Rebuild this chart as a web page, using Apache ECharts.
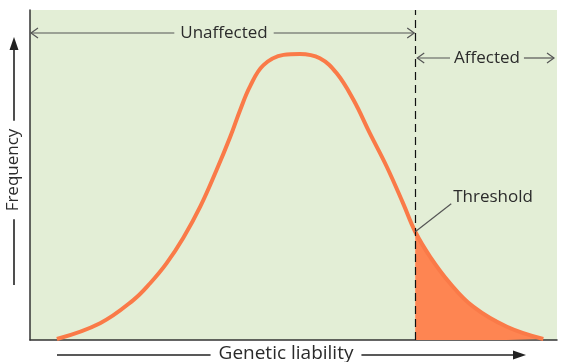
<!DOCTYPE html>
<html>
<head>
<meta charset="utf-8">
<script src="https://cdn.jsdelivr.net/npm/echarts@6/dist/echarts.min.js"></script>
<style>html,body{margin:0;padding:0;background:#fff;}#c{width:562px;height:362px;}</style>
</head>
<body>
<div id="c"></div>
<script>
// Curve (liability 0-100, frequency 0-100)
const liability = [5.1, 13.3, 19.6, 22.8, 25.9, 29.1, 32.3, 35.4, 38.0, 39.9, 41.8, 44.3, 48.1, 51.2, 55.0, 58.2, 61.4, 64.5, 67.7, 70.8, 73.1, 75.9, 79.7, 84.1, 90.5, 97.4];
const frequency = [0.3, 5.1, 12.1, 17.2, 23.2, 31.0, 40.4, 51.5, 61.6, 69.8, 77.0, 83.3, 86.4, 86.7, 85.4, 80.8, 72.7, 62.6, 52.5, 41.4, 32.8, 25.3, 17.2, 10.1, 4.0, 0.3];
const threshold = 73.1;
const labels = { unaffected: 'Unaffected', affected: 'Affected', threshold: 'Threshold', xName: 'Genetic liability', yName: 'Frequency' };

const curve = liability.map((x, i) => [x, frequency[i]]);
const tail = curve.filter(p => p[0] >= threshold);
const thresholdFreq = frequency[liability.indexOf(threshold)];

const chart = echarts.init(document.getElementById('c'), null, { renderer: 'canvas' });
const FONT = '"Open Sans", sans-serif';
chart.setOption({
  animation: false,
  grid: { left: 30, top: 10, right: 5, bottom: 22, show: true, backgroundColor: '#E3EED6', borderWidth: 0 },
  xAxis: { type: 'value', min: 0, max: 100, axisLine: { show: true, onZero: false, lineStyle: { color: '#333', width: 1.5 } }, axisTick: { show: false }, axisLabel: { show: false }, splitLine: { show: false } },
  yAxis: { type: 'value', min: 0, max: 100, axisLine: { show: true, onZero: false, lineStyle: { color: '#333', width: 1.5 } }, axisTick: { show: false }, axisLabel: { show: false }, splitLine: { show: false } },
  series: [
    { type: 'line', data: tail, smooth: 0.4, symbol: 'none', lineStyle: { width: 0 }, areaStyle: { color: '#FE8552', opacity: 1 }, z: 2 },
    { type: 'line', data: curve, smooth: 0.4, symbol: 'none', lineStyle: { color: '#FA7A48', width: 4 }, z: 3,
      markLine: { silent: true, symbol: 'none', label: { show: false }, lineStyle: { color: '#111', width: 1.2, type: [8, 5] }, data: [{ xAxis: threshold }] } }
  ]
});

function measure(text, font) {
  const ctx = document.createElement('canvas').getContext('2d');
  ctx.font = font; return ctx.measureText(text).width;
}
function chevron(x, y, dir, color) {
  return { type: 'polyline', shape: { points: [[x + dir * 7, y - 5], [x, y], [x + dir * 7, y + 5]] }, style: { stroke: color, lineWidth: 1.2, fill: null }, z: 20 };
}
function seg(x1, y1, x2, y2, color, w) {
  return { type: 'line', shape: { x1, y1, x2, y2 }, style: { stroke: color, lineWidth: w || 1.2 }, z: 20 };
}
function txt(text, x, y, size, rot) {
  return { type: 'text', x, y, rotation: rot || 0, style: { text, font: size + 'px ' + FONT, fill: '#2b2b2b', align: 'center', verticalAlign: 'middle' }, z: 21 };
}

function build() {
  const p = (x, y) => chart.convertToPixel({ gridIndex: 0 }, [x, y]);
  const [xl, yb] = p(0, 0);
  const [xr, yt] = p(100, 100);
  const [xt, yth] = p(threshold, thresholdFreq);
  const g = [];
  const gray = '#555';
  const fs = 17;
  // Unaffected arrow
  const yU = yt + 23;
  const wU = measure(labels.unaffected, fs + 'px ' + FONT);
  const cU = 224;
  g.push(seg(xl + 1, yU, cU - wU / 2 - 6, yU, gray), seg(cU + wU / 2 + 6, yU, xt - 1, yU, gray));
  g.push(chevron(xl + 1, yU, 1, gray), chevron(xt - 1, yU, -1, gray));
  g.push(txt(labels.unaffected, cU, yU, fs));
  // Affected arrow
  const yA = yt + 48;
  const wA = measure(labels.affected, fs + 'px ' + FONT);
  const cA = 487;
  g.push(seg(xt + 2, yA, cA - wA / 2 - 4, yA, gray), seg(cA + wA / 2 + 4, yA, xr - 3, yA, gray));
  g.push(chevron(xt + 2, yA, 1, gray), chevron(xr - 3, yA, -1, gray));
  g.push(txt(labels.affected, cA, yA, fs));
  // Threshold label
  g.push(seg(xt, yth, xt + 36, yth - 28, gray, 1.2));
  g.push({ type: 'text', x: xt + 38, y: yth - 35, style: { text: labels.threshold, font: fs + 'px ' + FONT, fill: '#2b2b2b', align: 'left', verticalAlign: 'middle' }, z: 21 });
  // X axis name with arrow
  const yX = yb + 15;
  const wX = measure(labels.xName, '19px ' + FONT);
  const cX = 286;
  g.push(seg(57, yX, cX - wX / 2 - 8, yX, '#222', 1.6), seg(cX + wX / 2 + 8, yX, 516, yX, '#222', 1.6));
  g.push({ type: 'polygon', shape: { points: [[526, yX], [513, yX - 4.5], [513, yX + 4.5]] }, style: { fill: '#222' }, z: 20 });
  g.push(txt(labels.xName, cX, yX - 1, 19));
  // Y axis name with arrow
  const xY = 14;
  const cY = 170;
  const wY = measure(labels.yName, fs + 'px ' + FONT);
  g.push(seg(xY, 285, xY, cY + wY / 2 + 8, '#222', 1.6), seg(xY, cY - wY / 2 - 8, xY, 48, '#222', 1.6));
  g.push({ type: 'polygon', shape: { points: [[xY, 37], [xY - 4.5, 50], [xY + 4.5, 50]] }, style: { fill: '#222' }, z: 20 });
  g.push(txt(labels.yName, xY - 1, cY, fs, Math.PI / 2));
  chart.setOption({ graphic: { elements: g } });
}
build();
</script>
</body>
</html>
